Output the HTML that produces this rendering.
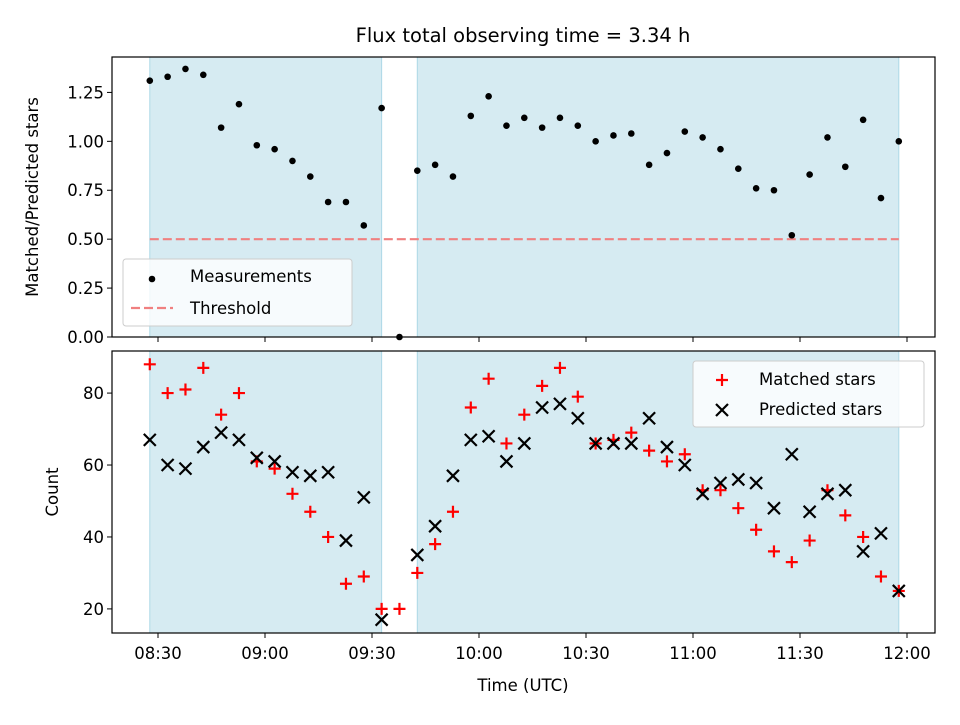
<!DOCTYPE html>
<html><head><meta charset="utf-8"><style>
body{margin:0;background:#fff;font-family:"Liberation Sans","DejaVu Sans",sans-serif}
svg text{font-family:"DejaVu Sans","Liberation Sans",sans-serif;fill:#000}
</style></head><body>
<svg id="c" width="960" height="720" xmlns="http://www.w3.org/2000/svg"></svg>
<script>
const startMin = -2.3; // minutes after 08:30 of first measurement
const stepMin = 5;
const ratio = [1.31,1.33,1.37,1.34,1.07,1.19,0.98,0.96,0.90,0.82,0.69,0.69,0.57,1.17,0.0,0.85,0.88,0.82,1.13,1.23,1.08,1.12,1.07,1.12,1.08,1.00,1.03,1.04,0.88,0.94,1.05,1.02,0.96,0.86,0.76,0.75,0.52,0.83,1.02,0.87,1.11,0.71,1.00];
const matched = [88,80,81,87,74,80,61,59,52,47,40,27,29,20,20,30,38,47,76,84,66,74,82,87,79,66,67,69,64,61,63,53,53,48,42,36,33,39,53,46,40,29,25];
const predicted = [67,60,59,65,69,67,62,61,58,57,58,39,51,17,null,35,43,57,67,68,61,66,76,77,73,66,66,66,73,65,60,52,55,56,55,48,63,47,52,53,36,41,25];
const threshold = 0.5;
const spans = [[-2.3,62.7],[72.7,207.7]];
const xTickLabels = ["08:30","09:00","09:30","10:00","10:30","11:00","11:30","12:00"];
const topTicks = [0,0.25,0.5,0.75,1.0,1.25];
const botTicks = [20,40,60,80];

const NS="http://www.w3.org/2000/svg", svg=document.getElementById('c');
function el(t,a,p){const e=document.createElementNS(NS,t);for(const k in a)e.setAttribute(k,a[k]);(p||svg).appendChild(e);return e;}
const L=112,R=935;
const X=m=>158+m*107/30;
const T={top:57,bot:337,min:0,max:1.431};
const B={top:351,bot:633,min:13.3,max:91.7};
const Y=(ax,v)=>ax.bot-(v-ax.min)/(ax.max-ax.min)*(ax.bot-ax.top);

const title=el('text',{x:523,y:42,'font-size':19.5,'text-anchor':'middle'});title.textContent='Flux total observing time = 3.34 h';



[T,B].forEach((ax,ai)=>{
  const g=el('g',{});
  
  
  spans.forEach(s=>{const r=el('rect',{x:X(s[0]),y:ax.top,width:X(s[1])-X(s[0]),height:ax.bot-ax.top,fill:'#add8e6','fill-opacity':0.5,stroke:'#add8e6','stroke-width':1},g);
    
    });
  el('rect',{x:L,y:ax.top,width:R-L,height:ax.bot-ax.top,fill:'none',stroke:'#000','stroke-width':1.2},g);
  xTickLabels.forEach((lab,i)=>{const x=X(i*30);el('line',{x1:x,x2:x,y1:ax.bot,y2:ax.bot+5,stroke:'#000'},g);
    if(ai){const t=el('text',{x:x,y:ax.bot+26,'font-size':16.5,'text-anchor':'middle'},g);t.textContent=lab;
      
      }});
  const ticks=ai?botTicks:topTicks;
  ticks.forEach(v=>{const y=Y(ax,v);el('line',{x1:L-5,x2:L,y1:y,y2:y,stroke:'#000'},g);
    const t=el('text',{x:L-8,y:y+6,'font-size':16.5,'text-anchor':'end'},g);t.textContent=ai?String(v):v.toFixed(2);
    
    });
});
const th=el('line',{x1:X(spans[0][0]),x2:X(spans[1][1]),y1:Y(T,threshold),y2:Y(T,threshold),stroke:'#f08080','stroke-width':2.2,'stroke-dasharray':'9,4'});


ratio.forEach((v,i)=>{const c=el('circle',{cx:X(startMin+i*stepMin),cy:Y(T,v),r:3.3,fill:'#000'});
  
  });
function plus(x,y,g){el('path',{d:`M${x-6},${y}H${x+6}M${x},${y-6}V${y+6}`,stroke:'#f00','stroke-width':2.2},g);}
function cross(x,y,g){el('path',{d:`M${x-6},${y-6}L${x+6},${y+6}M${x-6},${y+6}L${x+6},${y-6}`,stroke:'#000','stroke-width':2.2},g);}
matched.forEach((v,i)=>{const g=el('g',{});
  plus(X(startMin+i*stepMin),Y(B,v),g);});
predicted.forEach((v,i)=>{if(v==null)return;const g=el('g',{});
  cross(X(startMin+i*stepMin),Y(B,v),g);});
let t=el('text',{x:523,y:691,'font-size':16.5,'text-anchor':'middle'});t.textContent='Time (UTC)';


t=el('text',{x:0,y:0,'font-size':16.5,'text-anchor':'middle',transform:'translate(38,197) rotate(-90)'});t.textContent='Matched/Predicted stars';


t=el('text',{x:0,y:0,'font-size':16.5,'text-anchor':'middle',transform:'translate(58,492) rotate(-90)'});t.textContent='Count';


let lg=el('g',{});

el('rect',{x:123,y:259,width:229,height:67,rx:3,fill:'#fff','fill-opacity':0.8,stroke:'#ccc'},lg);
el('circle',{cx:152,cy:279,r:3.3,fill:'#000'},lg);
t=el('text',{x:190,y:282,'font-size':16.5},lg);t.textContent='Measurements';
el('line',{x1:131,x2:173,y1:308,y2:308,stroke:'#f08080','stroke-width':2.2,'stroke-dasharray':'9,4'},lg);
t=el('text',{x:190,y:314,'font-size':16.5},lg);t.textContent='Threshold';
lg=el('g',{});

el('rect',{x:693,y:361,width:231,height:66,rx:3,fill:'#fff','fill-opacity':0.8,stroke:'#ccc'},lg);
plus(722,380,lg);cross(722,410,lg);
t=el('text',{x:759,y:385,'font-size':16.5},lg);t.textContent='Matched stars';
t=el('text',{x:759,y:415,'font-size':16.5},lg);t.textContent='Predicted stars';
</script>
</body></html>
